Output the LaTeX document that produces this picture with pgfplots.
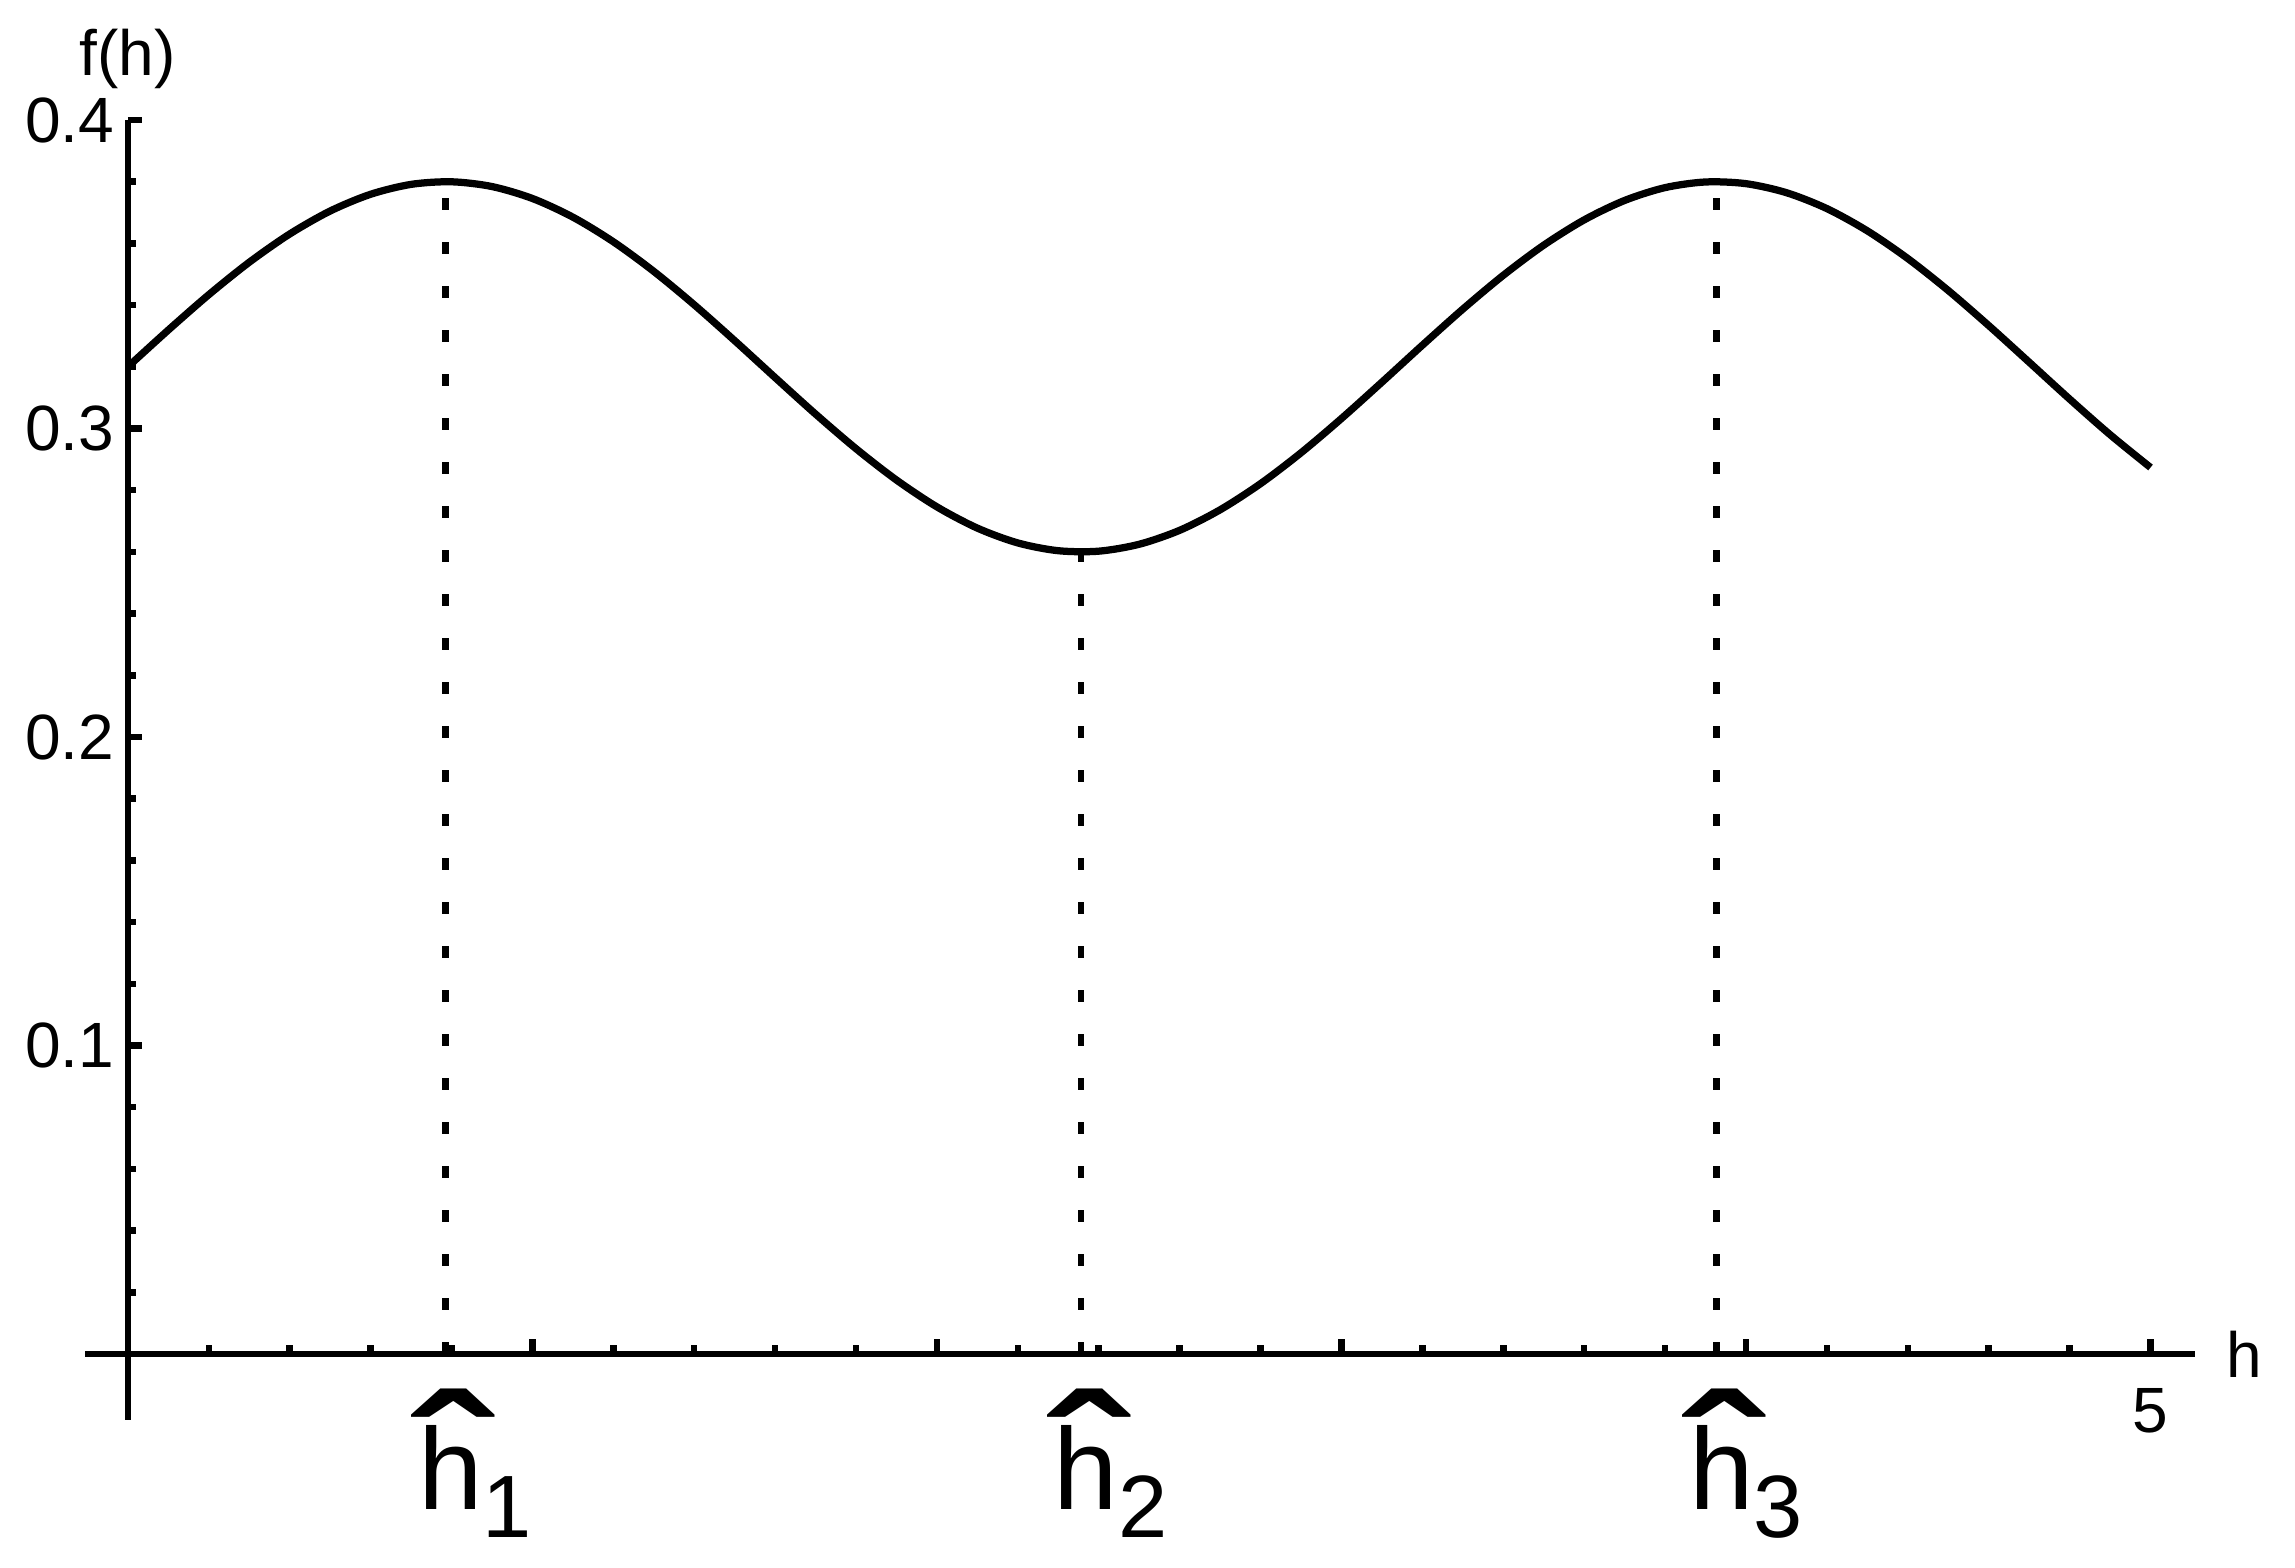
\documentclass[border=0pt]{standalone}
\usepackage{pgfplots}
\pgfplotsset{compat=1.18}
\usepackage{fontspec}
\setmainfont{Liberation Sans}
\usepackage{graphicx}

% hat-h label with a subscript hanging to the right
\newcommand{\hatlab}[1]{%
  \ooalign{h\cr\hidewidth\raisebox{-0.9pt}{\scalebox{2.0}[1.45]{\bfseries\char"02C6}}\hidewidth\cr}%
  \makebox[0pt][l]{\raisebox{-5.6pt}{\fontsize{17.7pt}{20pt}\selectfont #1}}}

\pgfplotstableread{
h    f
0.0  0.32000
0.1  0.33192
0.2  0.34337
0.3  0.35388
0.4  0.36304
0.5  0.37049
0.6  0.37592
0.7  0.37913
0.8  0.37997
0.9  0.37843
1.0  0.37456
1.1  0.36851
1.2  0.36053
1.3  0.35093
1.4  0.34010
1.5  0.32847
1.6  0.31650
1.7  0.30467
1.8  0.29345
1.9  0.28329
2.0  0.27459
2.1  0.26770
2.2  0.26290
2.3  0.26038
2.4  0.26023
2.5  0.26247
2.6  0.26699
2.7  0.27364
2.8  0.28212
2.9  0.29212
3.0  0.30323
3.1  0.31501
3.2  0.32699
3.3  0.33869
3.4  0.34965
3.5  0.35942
3.6  0.36762
3.7  0.37392
3.8  0.37808
3.9  0.37991
4.0  0.37936
4.1  0.37644
4.2  0.37128
4.3  0.36406
4.4  0.35509
4.5  0.34473
4.6  0.33337
4.7  0.32149
4.8  0.30954
4.9  0.29801
5.0  0.28736
}\curve

\begin{document}
\begin{tikzpicture}
\begin{axis}[
    name=ax,
    scale only axis,
    width=422pt, height=260pt,
    axis lines=middle,
    axis line style={-, line width=1.25pt},
    xmin=-0.106, xmax=5.11,
    ymin=-0.0214, ymax=0.4,
    xtick={0,1,2,3,4,5}, xticklabels={,,,,,5},
    ytick={0,0.1,0.2,0.3,0.4}, yticklabels={,0.1,0.2,0.3,0.4},
    minor x tick num=4, minor y tick num=4,
    tick align=inside,
    major tick length=2.9pt, minor tick length=1.7pt,
    every tick/.append style={black, line width=1.3pt},
    tick label style={font=\fontsize{12.8pt}{15pt}\selectfont, inner sep=0pt},
    xticklabel style={anchor=north, yshift=-6.6pt},
    yticklabel style={anchor=east, xshift=-2.5pt},
    xlabel={h}, ylabel={f(h)},
    every axis x label/.style={at={(current axis.right of origin)}, anchor=west,
        inner sep=0pt, xshift=6pt, font=\fontsize{12.8pt}{15pt}\selectfont},
    every axis y label/.style={at={(current axis.above origin)}, anchor=south,
        inner sep=0pt, yshift=6pt, font=\fontsize{12.8pt}{15pt}\selectfont},
    clip=false,
]
\addplot[black, line width=1.45pt, smooth] table[x=h, y=f] {\curve};

% dotted drops from the extrema to the h axis
\addplot[black, line width=1.3pt, dash pattern=on 2.4pt off 6.4pt] coordinates {(0.7854,0) (0.7854,0.38)};
\addplot[black, line width=1.3pt, dash pattern=on 2.4pt off 6.4pt] coordinates {(2.3562,0) (2.3562,0.26)};
\addplot[black, line width=1.3pt, dash pattern=on 2.4pt off 6.4pt] coordinates {(3.9270,0) (3.9270,0.38)};

\node[anchor=base, inner sep=0pt, yshift=-31.2pt, xshift=1pt,
      font=\fontsize{23.2pt}{28pt}\selectfont] at (axis cs:0.7854,0) {\hatlab{1}};
\node[anchor=base, inner sep=0pt, yshift=-31.2pt, xshift=1pt,
      font=\fontsize{23.2pt}{28pt}\selectfont] at (axis cs:2.3562,0) {\hatlab{2}};
\node[anchor=base, inner sep=0pt, yshift=-31.2pt, xshift=1pt,
      font=\fontsize{23.2pt}{28pt}\selectfont] at (axis cs:3.9270,0) {\hatlab{3}};
\end{axis}
\pgfresetboundingbox
\path[use as bounding box] ([shift={(-17pt,-29.6pt)}]ax.south west) rectangle ([shift={(20pt,24pt)}]ax.north east);
\end{tikzpicture}
\end{document}
